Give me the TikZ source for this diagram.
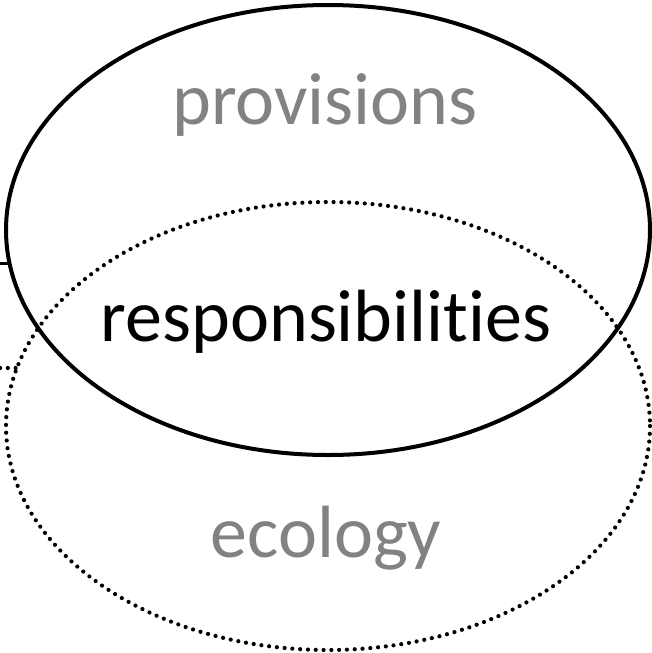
\documentclass[tikz,border=0pt]{standalone}
\usepackage{fontspec}
\setmainfont[Ligatures={NoCommon},RawFeature={-liga;-dlig}]{Carlito}
\begin{document}
\begin{tikzpicture}[x=1pt,y=-1pt,
  solidell/.style={draw=black,line width=4pt},
  dotell/.style={draw=black,line width=4.2pt,line cap=round,dash pattern=on 0pt off 7.8pt},
  lbl/.style={font=\fontsize{74}{80}\selectfont,inner sep=0pt,anchor=base},
  graylbl/.style={lbl,text=gray!98}]
\useasboundingbox (0,0) rectangle (652,653);
\draw[dotell] (328,426) ellipse [x radius=322, y radius=224];
\draw[solidell] (328,230) ellipse [x radius=322, y radius=225];
\coordinate (sa) at (-2,263);
\coordinate (sb) at (9.5,263);
\draw[line width=3pt] (sa) -- (sb);
\coordinate (da) at (0,368);
\coordinate (db) at (17,368);
\draw[dotell] (da) -- (db);
\node[graylbl] (prov) at (325,124) {provisions};
\node[lbl] (resp) at (326,341) {responsibilit\kern0pt ies};
\node[graylbl] (eco) at (326,557) {ecology};
\end{tikzpicture}
\end{document}
